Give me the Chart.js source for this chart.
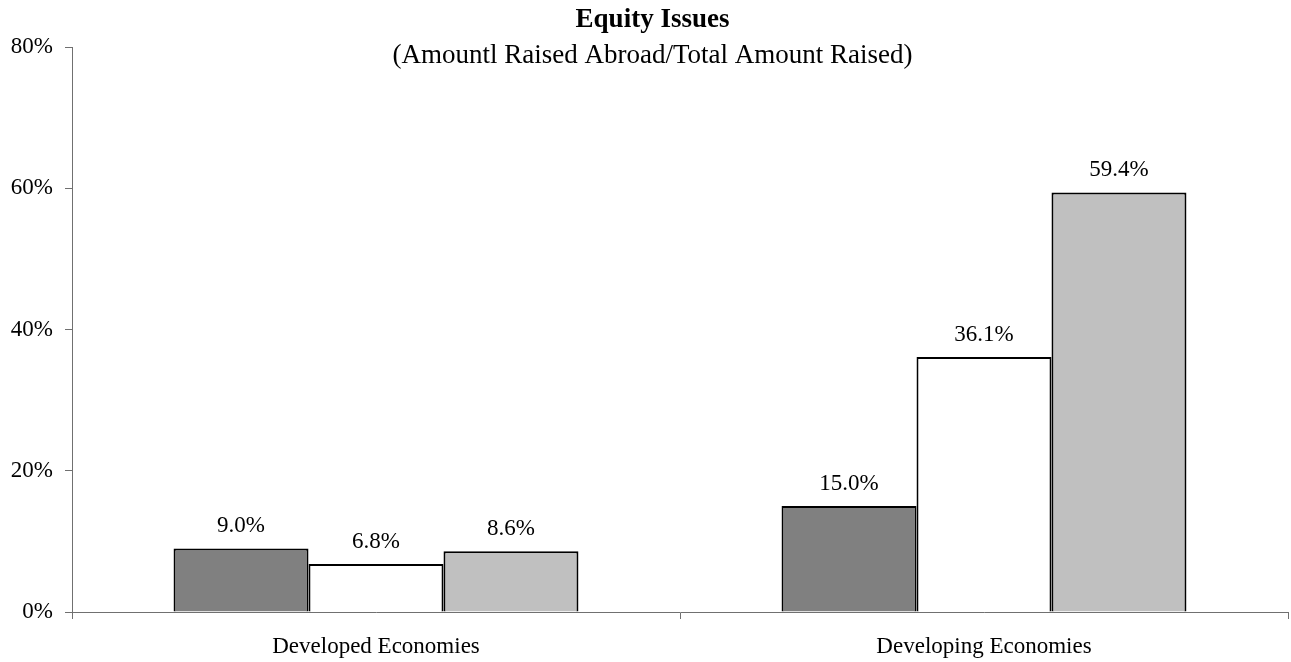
<!DOCTYPE html>
<html>
<head>
<meta charset="utf-8">
<title>Equity Issues</title>
<script src="https://cdn.jsdelivr.net/npm/chart.js@4"></script>
<style>
  html, body { margin: 0; padding: 0; background: #fff; }
  #wrap { width: 1291px; height: 662px; position: relative; }
</style>
</head>
<body>
<div id="wrap"><canvas id="chart"></canvas></div>
<script>
// values are percentages
const categories = ["Developed Economies", "Developing Economies"];
const seriesNames = ["Series 1", "Series 2", "Series 3"];
const series1 = [9.0, 15.0];
const series2 = [6.8, 36.1];
const series3 = [8.6, 59.4];
const seriesColors = ["#808080", "#ffffff", "#c0c0c0"];
const yTicks = [0, 20, 40, 60, 80];

const titleText = "Equity Issues";
const subtitleText = "(Amountl Raised Abroad/Total Amount Raised)";

const FONT = "'Liberation Serif', 'Times New Roman', serif";
const AXIS = "#707070";

// title drawn by hand so it can sit over the top of the plot area
const titlePlugin = {
  id: "titles",
  afterDraw(chart) {
    const ctx = chart.ctx;
    const cx = chart.width / 2 + 7;
    ctx.save();
    ctx.fillStyle = "#000";
    ctx.textAlign = "center";
    ctx.textBaseline = "alphabetic";
    ctx.font = "bold 27px " + FONT;
    ctx.fillText(titleText, cx, 27);
    ctx.font = "27px " + FONT;
    ctx.fillText(subtitleText, cx, 63);
    ctx.restore();
  }
};

// value labels above each bar
const valueLabels = {
  id: "valueLabels",
  afterDatasetsDraw(chart) {
    const ctx = chart.ctx;
    ctx.save();
    ctx.fillStyle = "#000";
    ctx.font = "23px " + FONT;
    ctx.textAlign = "center";
    ctx.textBaseline = "alphabetic";
    chart.data.datasets.forEach((ds, i) => {
      chart.getDatasetMeta(i).data.forEach((bar, j) => {
        ctx.fillText(ds.data[j].toFixed(1) + "%", bar.x, bar.y - 16);
      });
    });
    ctx.restore();
  }
};

const datasets = [series1, series2, series3].map((d, i) => ({
  label: seriesNames[i],
  data: d,
  backgroundColor: seriesColors[i],
  borderColor: "#000",
  borderWidth: 2,
  categoryPercentage: 0.666,
  barPercentage: 1.0
}));

new Chart(document.getElementById("chart"), {
  type: "bar",
  data: { labels: categories, datasets: datasets },
  options: {
    responsive: true,
    maintainAspectRatio: false,
    animation: false,
    layout: { padding: { top: 47, right: 3, left: 0, bottom: 0 } },
    plugins: {
      legend: { display: false },
      tooltip: { enabled: false },
      title: { display: false }
    },
    scales: {
      x: {
        grid: { offset: true, drawOnChartArea: false, drawTicks: true, tickLength: 7, color: AXIS },
        border: { color: AXIS, width: 1 },
        ticks: { color: "#000", font: { family: FONT, size: 23 }, padding: 14, maxRotation: 0 },
        afterFit(scale) { scale.height = 50; }
      },
      y: {
        min: 0,
        max: 80,
        afterBuildTicks(scale) { scale.ticks = yTicks.map(v => ({ value: v })); },
        grid: { drawOnChartArea: false, drawTicks: true, tickLength: 7, color: AXIS },
        border: { color: AXIS, width: 1 },
        ticks: {
          color: "#000",
          font: { family: FONT, size: 23 },
          padding: 12,
          callback: v => v + "%"
        },
        afterFit(scale) { scale.width = 72; }
      }
    }
  },
  plugins: [titlePlugin, valueLabels]
});
</script>
</body>
</html>
